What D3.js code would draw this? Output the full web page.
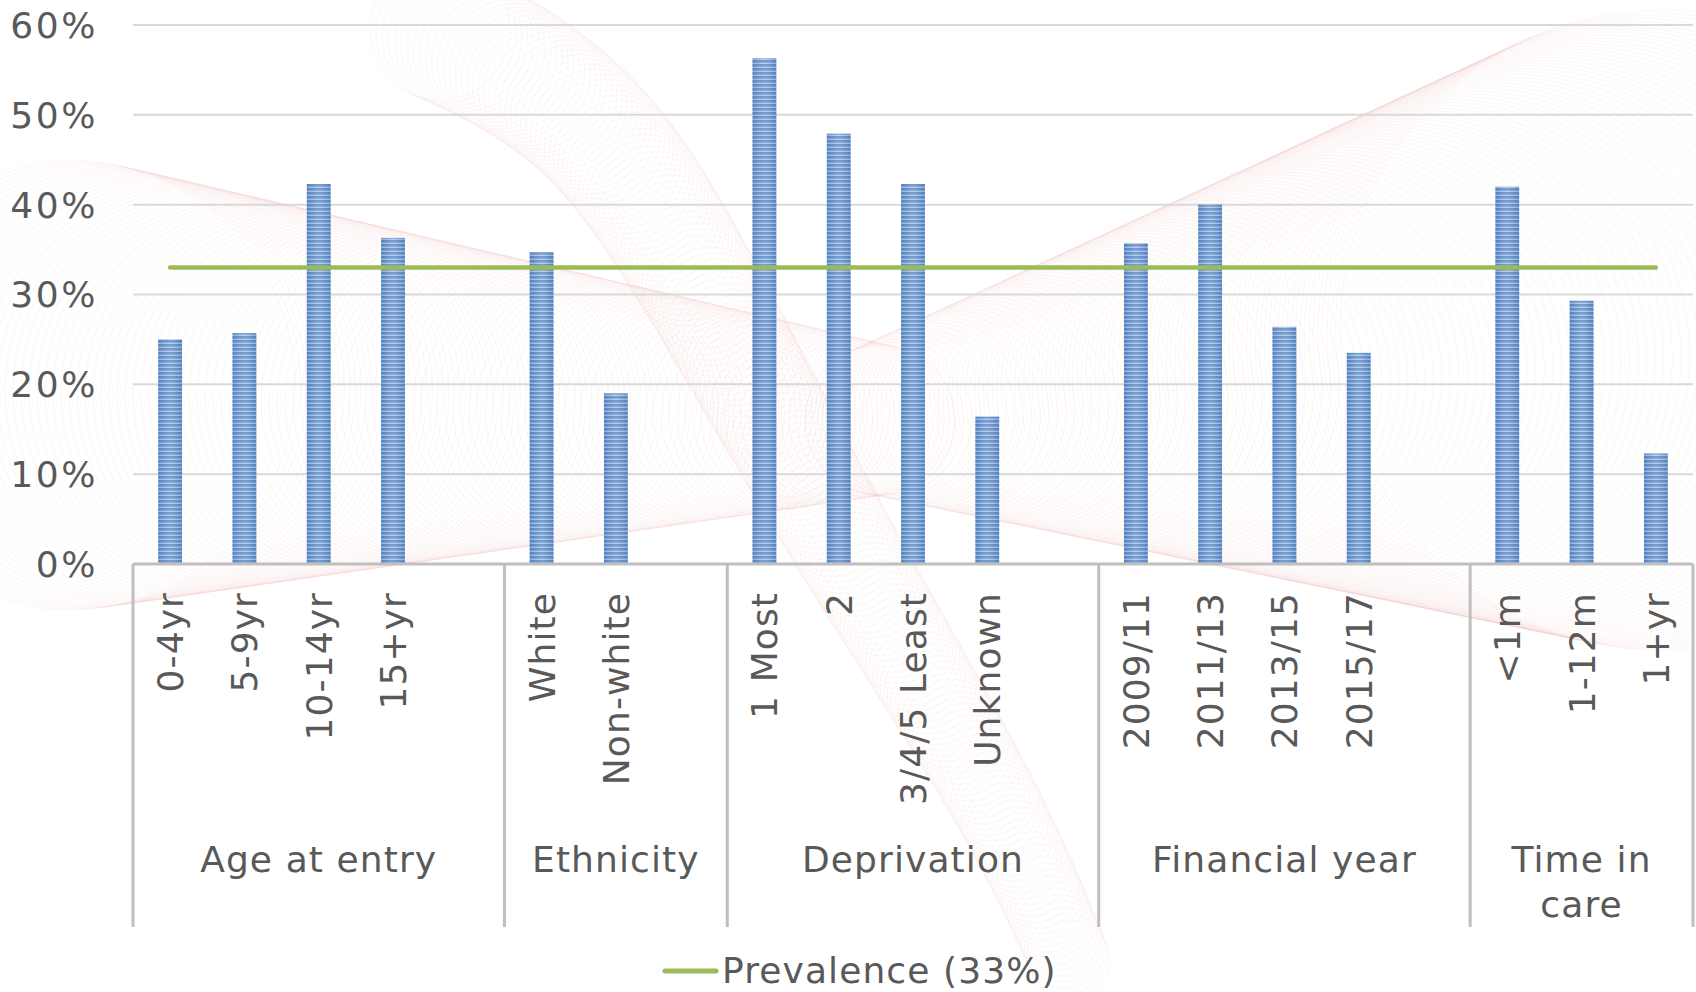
<!DOCTYPE html>
<html>
<head>
<meta charset="utf-8">
<script src="https://cdn.jsdelivr.net/npm/d3@7"></script>
<style>
  html, body { margin: 0; padding: 0; background: #ffffff; }
  svg { display: block; }
  text { font-family: "DejaVu Sans", Verdana, sans-serif; fill: #595959; letter-spacing: 1.1px; }
</style>
</head>
<body>
<svg id="chart" width="1696" height="992"></svg>
<script>
// ---- data ----
const groupNames = ["Age at entry", "Ethnicity", "Deprivation", "Financial year", "Time in care"];
const categories = ["0-4yr", "5-9yr", "10-14yr", "15+yr",
                    "White", "Non-white",
                    "1 Most", "2", "3/4/5 Least", "Unknown",
                    "2009/11", "2011/13", "2013/15", "2015/17",
                    "<1m", "1-12m", "1+yr"];
const categoryGroup = [0, 0, 0, 0, 1, 1, 2, 2, 2, 2, 3, 3, 3, 3, 4, 4, 4];
const values = [25.0, 25.7, 42.3, 36.3, 34.7, 19.0, 56.3, 47.9, 42.3, 16.4,
                35.7, 40.0, 26.4, 23.5, 42.0, 29.3, 12.3];
const prevalence = 33;
const prevalenceLabel = "Prevalence (33%)";
const yTicks = [0, 10, 20, 30, 40, 50, 60];

// ---- layout ----
const W = 1696, H = 992;
const plot = { left: 133, right: 1693, top: 25, bottom: 564 };

const svg = d3.select("#chart");

// Slots along the category axis: each group's categories followed by an empty gap slot
const slots = [];
groupNames.forEach((g, gi) => {
  categories.forEach((c, ci) => {
    if (categoryGroup[ci] === gi) slots.push({ key: "c" + ci, cat: ci, group: gi });
  });
  if (gi < groupNames.length - 1) slots.push({ key: "gap" + gi, cat: null, group: gi });
});

const x = d3.scaleBand()
  .domain(slots.map(s => s.key))
  .range([plot.left, plot.right])
  .paddingInner(0).paddingOuter(0);

const y = d3.scaleLinear().domain([0, 60]).range([plot.bottom, plot.top]);

// ---- decorative guilloche background ----
const bg = svg.append("g").attr("class", "guilloche")
  .attr("fill", "none").attr("stroke", "#e06a6a")
  .attr("stroke-width", 0.7).attr("stroke-opacity", 0.09);

function ribbon(n, center, radius) {
  for (let i = 0; i <= n; i++) {
    const t = i / n;
    const [cx, cy] = center(t);
    bg.append("circle").attr("cx", cx).attr("cy", cy).attr("r", radius(t));
  }
}
const lerp = (a, b, t) => a + (b - a) * t;
// left dome narrowing toward the middle
ribbon(120, t => [lerp(70, 880, t), lerp(385, 420, t)], t => lerp(225, 75, t));
// widening band rising to the top right
ribbon(120, t => [lerp(880, 1660, t), lerp(420, 330, t)], t => lerp(75, 320, t));
// S-shaped swoosh from the top down to the bottom centre
const swoosh = d3.line().curve(d3.curveBasis)(
  [[440, 30], [600, 110], [720, 320], [850, 560], [1000, 800], [1070, 960]]);
const swPath = svg.append("path").attr("d", swoosh).attr("fill", "none").attr("stroke", "none");
const swLen = swPath.node().getTotalLength();
ribbon(170, t => { const p = swPath.node().getPointAtLength(t * swLen); return [p.x, p.y]; },
       t => lerp(70, 40, t));

// ---- gridlines ----
svg.append("g").selectAll("line").data(yTicks.filter(d => d > 0)).join("line")
  .attr("x1", plot.left).attr("x2", plot.right)
  .attr("y1", d => y(d)).attr("y2", d => y(d))
  .attr("stroke", "#d9d9d9").attr("stroke-width", 2);

// ---- y axis labels ----
svg.append("g").selectAll("text").data(yTicks).join("text")
  .attr("x", 98).attr("y", d => y(d))
  .attr("dy", "0.36em")
  .attr("text-anchor", "end")
  .attr("font-size", 36)
  .style("letter-spacing", "2.6px")
  .text(d => d + "%");

// ---- bar fill: striped blue ----
const defs = svg.append("defs");
const pat = defs.append("pattern").attr("id", "stripes")
  .attr("patternUnits", "userSpaceOnUse").attr("width", 8).attr("height", 4);
pat.append("rect").attr("width", 8).attr("height", 4).attr("fill", "#adc6e8");
pat.append("rect").attr("width", 8).attr("height", 2.6).attr("fill", "#5888c6");
const grad = defs.append("linearGradient").attr("id", "sheen").attr("x1", 0).attr("x2", 1).attr("y1", 0).attr("y2", 0);
grad.append("stop").attr("offset", 0).attr("stop-color", "#3d6fb0").attr("stop-opacity", 0.3);
grad.append("stop").attr("offset", 0.5).attr("stop-color", "#ffffff").attr("stop-opacity", 0.18);
grad.append("stop").attr("offset", 1).attr("stop-color", "#3d6fb0").attr("stop-opacity", 0.3);

const barW = x.bandwidth() * 0.32;
const barSlots = slots.filter(s => s.cat !== null);
const bars = svg.append("g");
bars.selectAll("rect.bar").data(barSlots).join("rect").attr("class", "bar")
  .attr("x", s => x(s.key) + (x.bandwidth() - barW) / 2)
  .attr("width", barW)
  .attr("y", s => y(values[s.cat]))
  .attr("height", s => y(0) - y(values[s.cat]))
  .attr("fill", "url(#stripes)");
bars.selectAll("rect.sheen").data(barSlots).join("rect").attr("class", "sheen")
  .attr("x", s => x(s.key) + (x.bandwidth() - barW) / 2)
  .attr("width", barW)
  .attr("y", s => y(values[s.cat]))
  .attr("height", s => y(0) - y(values[s.cat]))
  .attr("fill", "url(#sheen)");

// ---- prevalence line ----
const firstSlot = slots[0].key, lastSlot = slots[slots.length - 1].key;
svg.append("line")
  .attr("x1", x(firstSlot) + x.bandwidth() / 2)
  .attr("x2", x(lastSlot) + x.bandwidth() / 2)
  .attr("y1", y(prevalence)).attr("y2", y(prevalence))
  .attr("stroke", "#9bbb59").attr("stroke-width", 4.5).attr("stroke-linecap", "round");

// ---- category axis ----
const axisColor = "#bfbfbf";
svg.append("line")
  .attr("x1", plot.left).attr("x2", plot.right)
  .attr("y1", y(0)).attr("y2", y(0))
  .attr("stroke", axisColor).attr("stroke-width", 3);

// group separators
const groupBounds = [plot.left];
groupNames.forEach((g, gi) => {
  const gs = slots.filter(s => s.group === gi);
  groupBounds.push(x(gs[gs.length - 1].key) + x.bandwidth());
});
svg.append("g").selectAll("line").data(groupBounds).join("line")
  .attr("x1", d => d).attr("x2", d => d)
  .attr("y1", y(0)).attr("y2", 927)
  .attr("stroke", axisColor).attr("stroke-width", 3);

// rotated category labels
svg.append("g").selectAll("text").data(barSlots).join("text")
  .attr("transform", s => `translate(${x(s.key) + x.bandwidth() / 2 + 13},592) rotate(-90)`)
  .attr("text-anchor", "end")
  .attr("font-size", 36)
  .text(s => categories[s.cat]);

// group labels (wrapped where a group is narrow)
const groupLines = [["Age at entry"], ["Ethnicity"], ["Deprivation"], ["Financial year"], ["Time in", "care"]];
groupNames.forEach((g, gi) => {
  const cx = (groupBounds[gi] + groupBounds[gi + 1]) / 2;
  const t = svg.append("text").attr("text-anchor", "middle").attr("font-size", 36);
  groupLines[gi].forEach((line, li) => {
    t.append("tspan").attr("x", cx).attr("y", 872 + li * 45).text(line);
  });
});

// ---- legend ----
const legend = svg.append("g");
legend.append("line")
  .attr("x1", 665).attr("x2", 716).attr("y1", 971).attr("y2", 971)
  .attr("stroke", "#9bbb59").attr("stroke-width", 5).attr("stroke-linecap", "round");
legend.append("text").attr("x", 722).attr("y", 983).attr("font-size", 36).text(prevalenceLabel);
</script>
</body>
</html>
